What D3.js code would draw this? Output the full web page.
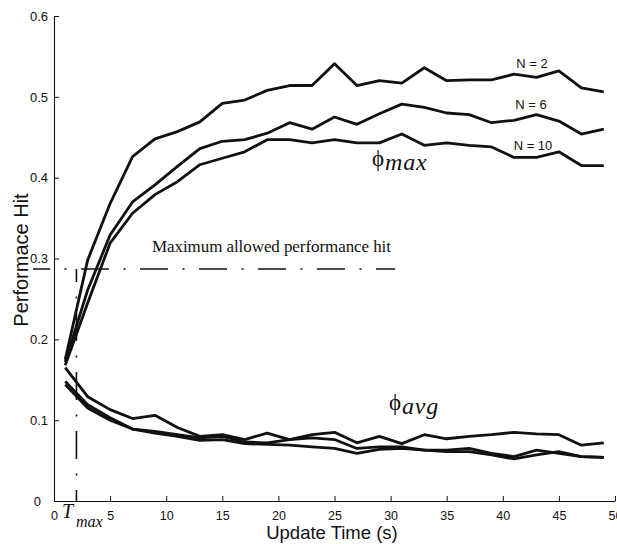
<!DOCTYPE html>
<html>
<head>
<meta charset="utf-8">
<script src="https://cdn.jsdelivr.net/npm/d3@7"></script>
<style>
  body { margin: 0; background: #fff; }
  svg { display: block; }
</style>
</head>
<body>
<svg id="chart" width="617" height="544"></svg>
<script>
// Update times (s) at which the performance hit was sampled
const updateTimes = [1, 3, 5, 7, 9, 11, 13, 15, 17, 19, 21, 23, 25, 27, 29, 31, 33, 35, 37, 39, 41, 43, 45, 47, 49];

// Maximum performance hit for each cluster size N
const maxHitN2  = [0.175, 0.298, 0.368, 0.426, 0.448, 0.457, 0.469, 0.492, 0.496, 0.508, 0.514, 0.514, 0.541, 0.514, 0.520, 0.517, 0.536, 0.520, 0.521, 0.521, 0.528, 0.524, 0.532, 0.511, 0.506];
const maxHitN6  = [0.172, 0.261, 0.329, 0.370, 0.391, 0.414, 0.436, 0.445, 0.447, 0.455, 0.468, 0.460, 0.475, 0.466, 0.479, 0.491, 0.487, 0.480, 0.478, 0.468, 0.471, 0.478, 0.470, 0.454, 0.460];
const maxHitN10 = [0.168, 0.245, 0.319, 0.356, 0.379, 0.395, 0.416, 0.424, 0.432, 0.447, 0.447, 0.443, 0.447, 0.443, 0.443, 0.454, 0.440, 0.443, 0.440, 0.438, 0.425, 0.425, 0.432, 0.415, 0.415];

// Average performance hit for the same three cluster sizes
const avgHitN2  = [0.165, 0.129, 0.113, 0.102, 0.106, 0.091, 0.080, 0.082, 0.076, 0.084, 0.076, 0.082, 0.085, 0.072, 0.080, 0.071, 0.082, 0.077, 0.080, 0.082, 0.085, 0.083, 0.082, 0.069, 0.072];
const avgHitN6  = [0.148, 0.119, 0.103, 0.089, 0.086, 0.082, 0.078, 0.080, 0.073, 0.072, 0.076, 0.078, 0.076, 0.065, 0.067, 0.067, 0.063, 0.063, 0.065, 0.059, 0.055, 0.063, 0.059, 0.055, 0.054];
const avgHitN10 = [0.144, 0.115, 0.100, 0.089, 0.084, 0.080, 0.075, 0.076, 0.071, 0.070, 0.069, 0.067, 0.065, 0.059, 0.064, 0.065, 0.063, 0.061, 0.061, 0.057, 0.052, 0.057, 0.061, 0.055, 0.054];

const seriesLabels = ["N = 2", "N = 6", "N = 10"];

// Allowed performance-hit threshold and the update time where it is first crossed
const maxAllowedHit = 0.287;
const thresholdSpan = [-1.87, 30.4];
const tMax = 2;

const xTicks = [0, 5, 10, 15, 20, 25, 30, 35, 40, 45, 50];
const yTicks = [0, 0.1, 0.2, 0.3, 0.4, 0.5, 0.6];

const svg = d3.select("#chart");
const sans = "'Liberation Sans', Arial, Helvetica, sans-serif";
const serif = "'Liberation Serif', 'Times New Roman', 'DejaVu Serif', serif";
const ink = "#111";

const x = d3.scaleLinear().domain([0, 50]).range([54, 615]);
const y = d3.scaleLinear().domain([0, 0.6]).range([501, 16]);

// Axes: left and bottom only, ticks pointing into the plot
const yAxis = d3.axisLeft(y)
  .tickValues(yTicks)
  .tickSize(-5)
  .tickSizeOuter(0)
  .tickPadding(6)
  .tickFormat(d => d === 0 ? "0" : d3.format(".1f")(d));
const gy = svg.append("g").attr("transform", `translate(${x(0)},0)`).call(yAxis);

const xAxis = d3.axisBottom(x)
  .tickValues(xTicks)
  .tickSize(-5)
  .tickSizeOuter(0)
  .tickPadding(10)
  .tickFormat(d3.format("d"));
const gx = svg.append("g").attr("transform", `translate(0,${y(0)})`).call(xAxis);

[gx, gy].forEach(g => {
  g.attr("font-family", sans).attr("font-size", 13);
  g.selectAll("path.domain").attr("stroke", ink).attr("stroke-width", 1.1);
  g.selectAll(".tick line").attr("stroke", ink).attr("stroke-width", 1);
  g.selectAll(".tick text").attr("fill", ink);
});
gx.attr("font-size", 12.5);
// the zero label on the value axis sits a little further left
gy.selectAll(".tick text").filter(d => d === 0).attr("x", -13);

// Threshold lines (dash-dot)
const dashDot = "28,14.5,2,14.5";
svg.append("line")
  .attr("x1", x(thresholdSpan[0])).attr("x2", x(thresholdSpan[1]))
  .attr("y1", y(maxAllowedHit)).attr("y2", y(maxAllowedHit))
  .attr("stroke", ink).attr("stroke-width", 1.6)
  .attr("stroke-dasharray", dashDot).attr("stroke-dashoffset", 11);
svg.append("line")
  .attr("x1", x(tMax)).attr("x2", x(tMax))
  .attr("y1", y(maxAllowedHit)).attr("y2", y(0))
  .attr("stroke", ink).attr("stroke-width", 1.6)
  .attr("stroke-dasharray", dashDot).attr("stroke-dashoffset", 15);

// Series curves
const line = d3.line()
  .x((d, i) => x(updateTimes[i]))
  .y(d => y(d));
const allSeries = [maxHitN2, maxHitN6, maxHitN10, avgHitN2, avgHitN6, avgHitN10];
svg.append("g")
  .selectAll("path")
  .data(allSeries)
  .join("path")
  .attr("d", line)
  .attr("fill", "none")
  .attr("stroke", ink)
  .attr("stroke-width", 2.8)
  .attr("stroke-linejoin", "round");

// Series labels
const labelPos = [[532, 68], [531, 109], [533, 150]];
svg.append("g")
  .selectAll("text")
  .data(seriesLabels)
  .join("text")
  .attr("x", (d, i) => labelPos[i][0])
  .attr("y", (d, i) => labelPos[i][1])
  .attr("text-anchor", "middle")
  .attr("font-family", sans)
  .attr("font-size", 13)
  .attr("fill", ink)
  .text(d => d);

// Greek symbol annotations
function symbolLabel(px, py, sub) {
  svg.append("text")
    .attr("x", px).attr("y", py)
    .attr("font-family", serif).attr("font-size", 23).attr("fill", ink)
    .text("\u03D5");
  svg.append("text")
    .attr("x", px + 13).attr("y", py + 4)
    .attr("font-family", serif).attr("font-size", 24)
    .attr("font-style", "italic").attr("letter-spacing", 0.8).attr("fill", ink)
    .text(sub);
}
symbolLabel(372, 166, "max");
symbolLabel(389, 410, "avg");

// Threshold annotation
svg.append("text")
  .attr("x", 152).attr("y", 252)
  .attr("font-family", serif).attr("font-size", 17).attr("fill", ink)
  .attr("textLength", 239).attr("lengthAdjust", "spacing")
  .text("Maximum allowed performance hit");

// T_max marker label
svg.append("text")
  .attr("x", 62).attr("y", 518)
  .attr("font-family", serif).attr("font-size", 20)
  .attr("font-style", "italic").attr("fill", ink)
  .text("T");
svg.append("text")
  .attr("x", 76).attr("y", 527)
  .attr("font-family", serif).attr("font-size", 16)
  .attr("font-style", "italic").attr("fill", ink)
  .text("max");

// Axis titles
svg.append("text")
  .attr("x", 332).attr("y", 539)
  .attr("text-anchor", "middle")
  .attr("font-family", sans).attr("font-size", 18.5).attr("fill", ink)
  .text("Update Time (s)");
svg.append("text")
  .attr("transform", "translate(28,260) rotate(-90)")
  .attr("text-anchor", "middle")
  .attr("font-family", sans).attr("font-size", 20).attr("fill", ink)
  .text("Performace Hit");
</script>
</body>
</html>
